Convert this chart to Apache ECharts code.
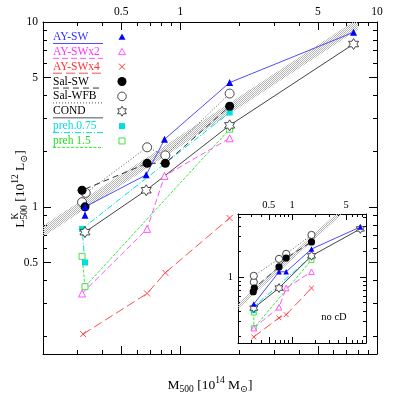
<!DOCTYPE html>
<html><head><meta charset="utf-8">
<script src="https://cdn.jsdelivr.net/npm/echarts@6/dist/echarts.min.js"></script>
<style>html,body{margin:0;padding:0;background:#fff}#c{width:398px;height:398px}</style>
</head><body><div id="c"></div>
<script>
// ---------------- DATA ----------------
// main panel: M500 [1e14 Msun] vs L^K_500 [1e12 Lsun]
const mainMRange = [0.2, 10];
const mainLRange = [0.16, 10];
const mainMajorTicks = [0.5, 1, 5, 10];
const mainMajorLabels = ['0.5', '1', '5', '10'];
const mainMinorTicks = [0.2, 0.3, 0.4, 0.6, 0.7, 0.8, 0.9, 2, 3, 4, 6, 7, 8, 9];

const aySW_M = [0.327, 0.327, 0.67, 0.83, 1.78, 7.6];
const aySW_L = [0.90, 1.00, 1.49, 2.32, 4.7, 8.8];
const aySWx2_M = [0.316, 0.677, 0.83, 1.78];
const aySWx2_L = [0.34, 0.76, 1.47, 2.35];
const aySWx4_M = [0.32, 0.677, 0.838, 1.78];
const aySWx4_L = [0.205, 0.34, 0.44, 0.87];
const salSW_M = [0.327, 0.316, 0.677, 0.838, 1.78];
const salSW_L = [1.00, 1.23, 1.72, 1.72, 3.5];
const salWFB_M = [0.316, 0.33, 0.677, 0.838, 1.78];
const salWFB_L = [1.06, 1.19, 2.1, 1.9, 4.1];
const cond_M = [0.327, 0.67, 1.78, 7.6];
const cond_L = [0.73, 1.23, 2.76, 7.6];
const preh075_M = [0.327, 0.316, 1.78];
const preh075_L = [0.50, 0.76, 3.24];
const preh15_M = [0.316, 0.327, 1.78];
const preh15_L = [0.54, 0.37, 2.63];
const band_M = [0.2, 8.0];
const band_lo = [0.69, 9.1];
const band_hi = [0.79, 10.45];

// inset panel ("no cD")
const insetMRange = [0.2, 9];
const insetLRange = [0.167, 5.5];
const insetXMajorTicks = [0.5, 1, 5];
const insetXMajorLabels = ['0.5', '1', '5'];
const insetXMinorTicks = [0.3, 0.4, 0.6, 0.7, 0.8, 0.9, 2, 3, 4, 6, 7, 8];
const insetYMajorTicks = [1];
const insetYMajorLabels = ['1'];
const insetYMinorTicks = [0.2, 0.3, 0.4, 0.5, 0.6, 0.7, 0.8, 0.9, 2, 3, 4, 5];

const inAySW_M = [0.32, 0.677, 0.838, 1.78, 7.6];
const inAySW_L = [0.48, 1.15, 1.15, 2.13, 3.87];
const inAySWx2_M = [0.32, 0.677, 0.838, 1.78];
const inAySWx2_L = [0.25, 0.44, 0.74, 1.15];
const inAySWx4_M = [0.32, 0.677, 0.838, 1.78];
const inAySWx4_L = [0.197, 0.33, 0.36, 0.74];
const inSalSW_M = [0.315, 0.325, 0.677, 0.838, 1.78];
const inSalSW_L = [0.67, 0.74, 1.31, 1.67, 2.58];
const inSalWFB_M = [0.32, 0.32, 0.677, 0.838, 1.78];
const inSalWFB_L = [0.87, 1.03, 1.63, 1.87, 3.12];
const inCond_M = [0.32, 0.677, 1.78, 7.6];
const inCond_L = [0.43, 0.74, 1.77, 3.67];
const inPreh075_M = [0.315, 0.325, 1.78];
const inPreh075_L = [0.40, 0.45, 1.75];
const inPreh15_M = [0.32, 0.32, 1.78];
const inPreh15_L = [0.38, 0.25, 1.58];
const inBand_M = [0.2, 4.5];
const inBand_lo = [0.42, 5.57];
const inBand_hi = [0.494, 6.55];

const legendNames = ['AY-SW', 'AY-SWx2', 'AY-SWx4', 'Sal-SW', 'Sal-WFB', 'COND', 'preh.0.75', 'preh 1.5'];

// ---------------- STYLES ----------------
const FONT = '"Liberation Serif", "DejaVu Serif", serif';
const STAR = 'path://M0,-100L28.9,-50L86.6,-50L57.7,0L86.6,50L28.9,50L0,100L-28.9,50L-86.6,50L-57.7,0L-86.6,-50L-28.9,-50Z';
const CROSS = 'path://M0,0L10,10M10,0L0,10';
const styles = {
  'AY-SW':    {line:'#4d4dff', mark:'#0000ff', text:'#3333ff', dash:'solid', symbol:'triangle', size:7, filled:true, leg:'tri'},
  'AY-SWx2':  {line:'#ff55ff', mark:'#ff44ff', text:'#ff33ff', dash:[6,3], symbol:'triangle', size:7, filled:false, leg:'otri'},
  'AY-SWx4':  {line:'#ff4d4d', mark:'#ff3333', text:'#ff3333', dash:[9,4], symbol:CROSS, size:6, filled:false, leg:'x'},
  'Sal-SW':   {line:'#333333', mark:'#000000', text:'#000000', dash:[6,4], symbol:'circle', size:9, filled:true, leg:'dot'},
  'Sal-WFB':  {line:'#555555', mark:'#333333', text:'#000000', dash:[1,2], symbol:'circle', size:9, filled:false, leg:'odot'},
  'COND':     {line:'#444444', mark:'#333333', text:'#000000', dash:'solid', symbol:STAR, size:[10,11], filled:false, leg:'star'},
  'preh.0.75':{line:'#00e0e0', mark:'#00dede', text:'#00dede', dash:[6,2,1,2], symbol:'rect', size:6, filled:true, leg:'sq'},
  'preh 1.5': {line:'#33ee33', mark:'#33dd33', text:'#22dd22', dash:[3,1.5], symbol:'rect', size:6, filled:false, leg:'osq'}
};

// ---------------- AXES ----------------
const lg = Math.log10;
function fmt(majors, labels) {
  return v => { for (let i = 0; i < majors.length; i++) if (Math.abs(lg(majors[i]) - v) < 1e-6) return labels[i]; return ''; };
}
function axisSet(kind, gridIndex, range, majors, labels, minors, labelPos, fs, majLen, minLen, margin) {
  const positions = kind === 'x' ? ['bottom', 'top'] : ['left', 'right'];
  const out = [];
  positions.forEach(pos => {
    out.push({
      type: 'value', gridIndex, position: pos, min: lg(range[0]), max: lg(range[1]),
      axisLine: {show: true, onZero: false, lineStyle: {color: '#000', width: 1}},
      axisTick: {show: true, inside: true, length: majLen, customValues: majors.map(lg), lineStyle: {color: '#000', width: 1}},
      axisLabel: {show: pos === labelPos, customValues: majors.map(lg), formatter: fmt(majors, labels),
        fontFamily: FONT, fontSize: fs, color: '#000', margin: margin},
      splitLine: {show: false}
    });
    out.push({
      type: 'value', gridIndex, position: pos, min: lg(range[0]), max: lg(range[1]),
      axisLine: {show: false, onZero: false},
      axisTick: {show: true, inside: true, length: minLen, customValues: minors.map(lg), lineStyle: {color: '#000', width: 1}},
      axisLabel: {show: false},
      splitLine: {show: false}
    });
  });
  return out;
}
const xAxes = axisSet('x', 0, mainMRange, mainMajorTicks, mainMajorLabels, mainMinorTicks, 'top', 11.5, 8, 4, 4)
  .concat(axisSet('x', 1, insetMRange, insetXMajorTicks, insetXMajorLabels, insetXMinorTicks, 'top', 10.5, 6, 3, 3));
const yAxes = axisSet('y', 0, mainLRange, mainMajorTicks, mainMajorLabels, mainMinorTicks, 'left', 11.5, 8, 4, 5)
  .concat(axisSet('y', 1, insetLRange, insetYMajorTicks, insetYMajorLabels, insetYMinorTicks, 'left', 10.5, 6, 3, 5));

// ---------------- SERIES ----------------
const hc = document.createElement('canvas'); hc.width = 2; hc.height = 2;
const hx = hc.getContext('2d'); hx.fillStyle = '#b4b4b4'; hx.fillRect(0, 0, 1, 1); hx.fillRect(1, 1, 1, 1);
const hatch = {image: hc, repeat: 'repeat'};

function bandSeries(M, lo, hi, ai) {
  return {
    type: 'custom', xAxisIndex: ai, yAxisIndex: ai, z: 1, silent: true, clip: true, animation: false,
    data: [[lg(M[0]), lg(lo[0])]],
    renderItem: (params, api) => {
      const up = M.map((m, i) => api.coord([lg(m), lg(hi[i])]));
      const dn = M.map((m, i) => api.coord([lg(m), lg(lo[i])])).reverse();
      return {type: 'polygon', shape: {points: up.concat(dn)}, style: {fill: hatch}};
    }
  };
}
function lineSeries(name, M, L, ai, scale) {
  const s = styles[name];
  const isPath = typeof s.symbol === 'string' && s.symbol.indexOf('path://') === 0;
  const size = Array.isArray(s.size) ? s.size.map(v => v * scale) : s.size * scale;
  return {
    name, type: 'line', xAxisIndex: ai, yAxisIndex: ai, z: 3, animation: false, silent: true,
    data: M.map((m, i) => [lg(m), lg(L[i])]),
    symbol: s.symbol, symbolSize: size, showSymbol: true, showAllSymbol: true, clip: true,
    lineStyle: {color: s.line, width: 1, type: s.dash},
    itemStyle: s.filled ? {color: s.mark, borderWidth: 0}
                        : {color: isPath && name === 'AY-SWx4' ? s.mark : '#ffffff', borderColor: s.mark, borderWidth: 0.9}
  };
}
const series = [
  bandSeries(band_M, band_lo, band_hi, 0),
  lineSeries('preh 1.5', preh15_M, preh15_L, 0, 1),
  lineSeries('preh.0.75', preh075_M, preh075_L, 0, 1),
  lineSeries('AY-SWx4', aySWx4_M, aySWx4_L, 0, 1),
  lineSeries('AY-SWx2', aySWx2_M, aySWx2_L, 0, 1),
  lineSeries('COND', cond_M, cond_L, 0, 1),
  lineSeries('Sal-WFB', salWFB_M, salWFB_L, 0, 1),
  lineSeries('Sal-SW', salSW_M, salSW_L, 0, 1),
  lineSeries('AY-SW', aySW_M, aySW_L, 0, 1),
  bandSeries(inBand_M, inBand_lo, inBand_hi, 4),
  lineSeries('preh 1.5', inPreh15_M, inPreh15_L, 4, 0.8),
  lineSeries('preh.0.75', inPreh075_M, inPreh075_L, 4, 0.8),
  lineSeries('AY-SWx4', inAySWx4_M, inAySWx4_L, 4, 0.8),
  lineSeries('AY-SWx2', inAySWx2_M, inAySWx2_L, 4, 0.8),
  lineSeries('COND', inCond_M, inCond_L, 4, 0.8),
  lineSeries('Sal-WFB', inSalWFB_M, inSalWFB_L, 4, 0.8),
  lineSeries('Sal-SW', inSalSW_M, inSalSW_L, 4, 0.8),
  lineSeries('AY-SW', inAySW_M, inAySW_L, 4, 0.8)
];

// ---------------- GRAPHICS (titles, legend, note) ----------------
const mctx = document.createElement('canvas').getContext('2d');
function tw(t, s) { mctx.font = s + 'px ' + FONT; return mctx.measureText(t).width; }
function titleGroup(pieces, cx, cy, rot) {
  let x = 0; const kids = [];
  pieces.forEach(p => {
    kids.push({type: 'text', x: x, y: p.dy || 0,
      style: {text: p.t, font: p.s + 'px ' + FONT, fill: '#000', align: 'left', verticalAlign: 'middle'}});
    if (!p.stack) x += tw(p.t, p.s);
  });
  kids.forEach(k => { k.x -= x / 2; });
  return {type: 'group', x: cx, y: cy, rotation: rot, children: kids, silent: true};
}
const yTitle = titleGroup([
  {t: 'L', s: 13.5}, {t: 'K', s: 9.5, dy: -5, stack: true}, {t: '500', s: 9.5, dy: 4},
  {t: ' [10', s: 13.5}, {t: '12', s: 9.5, dy: -5}, {t: ' L', s: 13.5}, {t: '\u2299', s: 9.5, dy: 4}, {t: ']', s: 13.5}
], 20, 189, Math.PI / 2);
const xTitle = titleGroup([
  {t: 'M', s: 13.5}, {t: '500', s: 9.5, dy: 4},
  {t: ' [10', s: 13.5}, {t: '14', s: 9.5, dy: -5}, {t: ' M', s: 13.5}, {t: '\u2299', s: 9.5, dy: 4}, {t: ']', s: 13.5}
], 210, 385, 0);

function legMarker(kind, x, y, c) {
  const r = 3.5;
  switch (kind) {
    case 'tri': return {type: 'polygon', shape: {points: [[x, y - r], [x + r, y + r * 0.8], [x - r, y + r * 0.8]]}, style: {fill: c}};
    case 'otri': return {type: 'polygon', shape: {points: [[x, y - r], [x + r, y + r * 0.8], [x - r, y + r * 0.8]]}, style: {fill: '#fff', stroke: c, lineWidth: 0.9}};
    case 'x': return {type: 'group', children: [
      {type: 'line', shape: {x1: x - 3, y1: y - 3, x2: x + 3, y2: y + 3}, style: {stroke: c, lineWidth: 1}},
      {type: 'line', shape: {x1: x - 3, y1: y + 3, x2: x + 3, y2: y - 3}, style: {stroke: c, lineWidth: 1}}]};
    case 'dot': return {type: 'circle', shape: {cx: x, cy: y, r: 4.5}, style: {fill: c}};
    case 'odot': return {type: 'circle', shape: {cx: x, cy: y, r: 4.3}, style: {fill: '#fff', stroke: c, lineWidth: 0.9}};
    case 'star': {
      const pts = [];
      for (let k = 0; k < 12; k++) { const a = (-90 + 30 * k) * Math.PI / 180; const rr = k % 2 ? 2.9 : 5; pts.push([x + rr * Math.cos(a), y + rr * Math.sin(a)]); }
      return {type: 'polygon', shape: {points: pts}, style: {fill: '#fff', stroke: c, lineWidth: 0.9}};
    }
    case 'sq': return {type: 'rect', shape: {x: x - 3, y: y - 3, width: 6, height: 6}, style: {fill: c}};
    case 'osq': return {type: 'rect', shape: {x: x - 3, y: y - 3, width: 6, height: 6}, style: {fill: '#fff', stroke: c, lineWidth: 0.9}};
  }
}
const legendEls = [];
legendNames.forEach((n, i) => {
  const s = styles[n]; const y = 37 + i * 14.85;
  legendEls.push({type: 'text', x: 53, y: y, style: {text: n, font: '11.5px ' + FONT, fill: s.text, align: 'left', verticalAlign: 'middle'}});
  const isCond = n === 'COND';
  legendEls.push({type: 'line', shape: {x1: 53, y1: y + 6.5, x2: 103, y2: y + 6.5},
    style: {stroke: isCond ? '#8a8a8a' : s.line, lineWidth: isCond ? 1.6 : 1, lineDash: s.dash === 'solid' ? null : s.dash}});
  legendEls.push(legMarker(s.leg, 122, y, s.mark));
});
const note = {type: 'text', x: 334, y: 317, style: {text: 'no cD', font: '10.5px ' + FONT, fill: '#000', align: 'center', verticalAlign: 'middle'}};

// ---------------- CHART ----------------
const chart = echarts.init(document.getElementById('c'), null, {renderer: 'canvas'});
chart.setOption({
  animation: false,
  backgroundColor: '#fff',
  grid: [
    {left: 43, top: 22, width: 334, height: 332, containLabel: false, outerBoundsMode: 'none'},
    {left: 238, top: 214, width: 128, height: 129, containLabel: false, outerBoundsMode: 'none', show: true, backgroundColor: '#fff', borderWidth: 0}
  ],
  xAxis: xAxes,
  yAxis: yAxes,
  series: series,
  graphic: [yTitle, xTitle, note].concat(legendEls)
});
</script>
</body></html>
